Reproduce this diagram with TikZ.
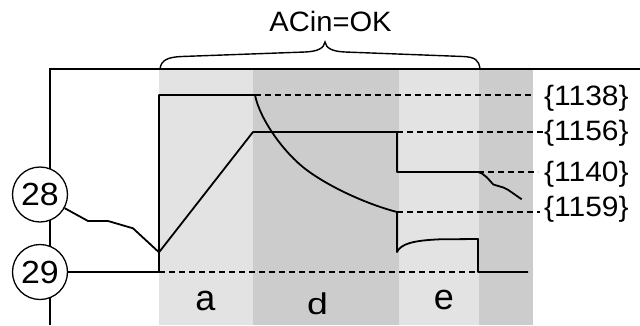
\documentclass[tikz,border=0pt]{standalone}
\usepackage{fontspec}
\setmainfont{Liberation Sans}
\usepackage{graphicx}
\definecolor{bandlight}{HTML}{E3E3E3}
\definecolor{banddark}{HTML}{CCCCCC}
\tikzset{
  trace/.style={line width=1.8pt, line join=round},
  frameline/.style={line width=1.4pt},
  refline/.style={line width=1.3pt, dash pattern=on 6pt off 4pt},
  numcircle/.style={circle, draw, line width=1.3pt, fill=white, minimum size=55pt, inner sep=0pt, font=\fontsize{32}{34}\selectfont},
  lbl/.style={anchor=base west, inner sep=0pt, font=\fontsize{28}{30}\selectfont},
  seg/.style={anchor=base, inner sep=0pt, font=\fontsize{36}{38}\selectfont},
}
\begin{document}
\begin{tikzpicture}[x=1pt,y=-1pt]
\useasboundingbox (0,0) rectangle (640,325);
% bands
\fill[bandlight] (159,69) rectangle (253,325);
\fill[banddark] (253,69) rectangle (399,325);
\fill[bandlight] (399,69) rectangle (479,325);
\fill[banddark] (479,69) rectangle (533,325);
% frame
\coordinate (fbl) at (50,325);
\coordinate (ftl) at (50,69);
\coordinate (ftr) at (640,69);
\draw[frameline] (fbl) -- (ftl) -- (ftr);
% brace and title
\draw[line width=1.4pt] (160,69) .. controls (161,60) and (168,57) .. (182,56.5) -- (305,52)
  .. controls (318,51.5) and (324,48) .. (325,42)
  .. controls (326,48) and (332,51.5) .. (345,52) -- (463,56.5)
  .. controls (475,57) and (479,60) .. (480,69);
\node[anchor=base, inner sep=0pt, font=\fontsize{28}{30}\selectfont] (acin) at (330.5,31.7) {\scalebox{1.04}[1]{ACin=OK}};
% labels
\node[lbl] (l1138) at (544,105) {\scalebox{1.07}[1]{\{1138\}}};
\node[lbl] (l1156) at (544,140) {\scalebox{1.07}[1]{\{1156\}}};
\node[lbl] (l1140) at (544,181.7) {\scalebox{1.07}[1]{\{1140\}}};
\node[lbl] (l1159) at (544,216.5) {\scalebox{1.07}[1]{\{1159\}}};
% reference (dashed) lines
\coordinate (d1a) at (255,95);  \coordinate (d1b) at (533,95);
\coordinate (d2a) at (397,132); \coordinate (d2b) at (545,132);
\coordinate (d3a) at (478,172); \coordinate (d3b) at (538,172);
\coordinate (d4a) at (397,212); \coordinate (d4b) at (540,212);
\coordinate (d5a) at (159,272); \coordinate (d5b) at (478,272);
\draw[refline] (d1a) -- (d1b);
\draw[refline] (d2a) -- (d2b);
\draw[refline] (d3a) -- (d3b);
\draw[refline] (d4a) -- (d4b);
\draw[refline] (d5a) -- (d5b);
% circles
\node[numcircle] (c28) at (40,194.5) {\scalebox{1.06}[1]{28}};
\node[numcircle] (c29) at (40,272) {\scalebox{1.06}[1]{29}};
% trace 29 / 1138 / 1159
\draw[trace] (c29.east) -- (159,272) -- (159,95) -- (255,95)
  .. controls (260,120) and (284.7,153.7) .. (306.7,170)
  .. controls (330,187.3) and (367,204.2) .. (397,212)
  -- (397,252)
  .. controls (401,244) and (412,240.5) .. (440,239.3)
  -- (478,239) -- (478,272) -- (528,272);
% trace 28 / 1156 / 1140
\draw[trace] (c28.-29) -- (88,221) -- (108,221) -- (133,228.3) -- (159,252.3)
  -- (253,132) -- (397,132) -- (397,172) -- (478,172)
  -- (482,173.5) -- (487,177.5) -- (493.3,184.5) -- (498.3,186) -- (503.3,187.5)
  -- (508.3,190) -- (521.7,199.3);
% phase letters
\node[seg] (sa) at (205.5,310) {a};
\node[seg, font=\fontsize{30}{32}\selectfont] (sd) at (317.5,314) {\scalebox{1.25}[1]{d}};
\node[seg] (se) at (444,309.5) {e};
\end{tikzpicture}
\end{document}
